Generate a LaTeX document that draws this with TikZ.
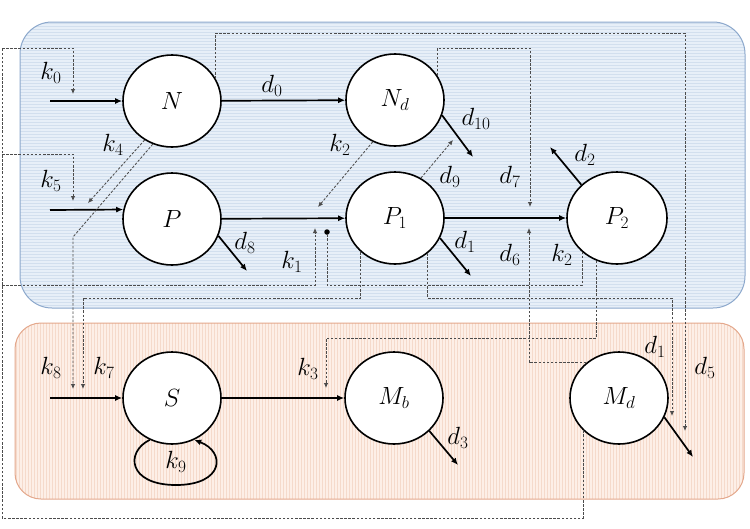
\documentclass[tikz,border=0pt]{standalone}
\usetikzlibrary{arrows.meta,shapes.geometric}
\definecolor{bluefill}{RGB}{231,239,248}
\definecolor{bluestripe}{RGB}{210,223,238}
\definecolor{blueedge}{RGB}{140,168,204}
\definecolor{orfill}{RGB}{253,239,231}
\definecolor{orstripe}{RGB}{245,218,203}
\definecolor{oredge}{RGB}{228,168,140}
\begin{document}
\begin{tikzpicture}[x=1pt,y=-1pt,
  state/.style={ellipse,draw,line width=1.6pt,fill=white,minimum width=98pt,minimum height=92pt,inner sep=0pt,font=\fontsize{25}{29}\selectfont},
  flow/.style={line width=1.7pt,-{Latex[length=7pt,width=6pt]}},
  ctrl/.style={draw=black!70,line width=0.85pt,dash pattern=on 2.5pt off 1.6pt},
  ctrlarr/.style={ctrl,-{Latex[length=5pt,width=4.5pt]}},
  lbl/.style={font=\fontsize{25}{29}\selectfont,inner sep=0pt},
  dotnode/.style={circle,fill=black,inner sep=0pt,minimum size=5.5pt}
]
\useasboundingbox (0,0) rectangle (750,528);
% upper box
\begin{scope}
\path[clip,rounded corners=32pt] (20,22) rectangle (745,308);
\fill[bluefill] (20,22) rectangle (745,308);
\foreach \y in {23,26,...,308} \draw[bluestripe,line width=0.5pt] (20,\y) -- (745,\y);
\end{scope}
\draw[blueedge,line width=1pt,rounded corners=32pt] (20,22) rectangle (745,308);
% lower box
\begin{scope}
\path[clip,rounded corners=26pt] (15,323) rectangle (744,499);
\fill[orfill] (15,323) rectangle (744,499);
\foreach \x in {16,19,...,744} \draw[orstripe,line width=0.5pt] (\x,323) -- (\x,499);
\end{scope}
\draw[oredge,line width=1pt,rounded corners=26pt] (15,323) rectangle (744,499);

% states
\node[state] (N) at (172,101) {$N$};
\node[state] (Nd) at (395,100) {$N_d$};
\node[state] (P) at (172,219) {$P$};
\node[state] (P1) at (395,218) {$P_1$};
\node[state,minimum width=100pt] (P2) at (617,218) {$P_2$};
\node[state] (S) at (172,398) {$S$};
\node[state] (Mb) at (394,398) {$M_b$};
\node[state] (Md) at (619,398) {$M_d$};

% coordinates
\coordinate (in0) at (50,101);
\coordinate (inP) at (50,210);
\coordinate (inS) at (50,398);
\coordinate (d8e) at (247,271);
\coordinate (d1e) at (471,276);
\coordinate (d10e) at (473,157);
\coordinate (d2e) at (550,147);
\coordinate (d3e) at (458,465);
\coordinate (dMe) at (693,457);

% solid flows
\draw[flow] (in0) -- (N);
\draw[flow] (inP) -- (P.169);
\draw[flow] (inS) -- (S);
\draw[flow] (N) -- (Nd);
\draw[flow] (P) -- (P1);
\draw[flow] (P1) -- (P2);
\draw[flow,line width=1.3pt] (S) -- (Mb);
\draw[flow] (P.-20) -- (d8e);
\draw[flow] (P1.-24) -- (d1e);
\draw[flow] (Nd.-18) -- (d10e);
\draw[flow] (P2.137) -- (d2e);
\draw[flow] (Mb.-43) -- (d3e);
\draw[flow] (Md.-23) -- (dMe);
\draw[flow] (S.-118) .. controls (125,452) and (128,485) .. (176,485)
  .. controls (224,485) and (226,452) .. (S.-62);

% dashed controls
\coordinate (t5) at (685,33); \coordinate (d5e) at (685,431);
\draw[ctrlarr] (N.27) |- (t5) -- (d5e);
\coordinate (t7) at (530,48); \coordinate (d7e) at (530,207);
\draw[ctrlarr] (Nd.30) |- (t7) -- (d7e);
\coordinate (d9e) at (453,140);
\draw[ctrlarr] (P1.57) -- (d9e);
\coordinate (k2e) at (318,207);
\draw[ctrlarr] (Nd.-118) -- (k2e);
\coordinate (k4e) at (88,203);
\draw[ctrlarr] (N.-125) -- (k4e);
\coordinate (k8b) at (73,237); \coordinate (k8e) at (73,389);
\draw[ctrlarr] (N.-114) -- (k8b) -- (k8e);

\coordinate (cB) at (2,518); \coordinate (cT) at (2,48);
\coordinate (k0t) at (73,48); \coordinate (k0e) at (73,94);
\coordinate (c5) at (2,154); \coordinate (k5t) at (73,154); \coordinate (k5e) at (73,201);
\coordinate (c1) at (2,285); \coordinate (k1t) at (315,285); \coordinate (k1e) at (315,228);
\draw[ctrl] (Md.222) |- (cB) -- (cT);
\draw[ctrlarr] (cT) -- (k0t) -- (k0e);
\draw[ctrlarr] (c5) -- (k5t) -- (k5e);
\draw[ctrlarr] (c1) -- (k1t) -- (k1e);

\node[dotnode] (k2d) at (327,232) {};
\coordinate (k2b) at (327,285);
\draw[ctrl] (P2.224) |- (k2b) -- (k2d);

\coordinate (k7t) at (83,298); \coordinate (k7e) at (83,389);
\draw[ctrlarr] (P1.225) |- (k7t) -- (k7e);
\coordinate (d1t) at (672,298); \coordinate (d1le) at (672,416);
\draw[ctrlarr] (P1.-47) |- (d1t) -- (d1le);
\coordinate (d6e) at (529,228);
\draw[ctrlarr] (Md.133) -| (d6e);
\coordinate (k3t) at (326,338); \coordinate (k3e) at (326,388);
\draw[ctrlarr] (P2.-116) |- (k3t) -- (k3e);

% labels
\node[lbl] (lk0) at (51,73) {$k_0$};
\node[lbl] (ld0) at (272,86) {$d_0$};
\node[lbl] (lk4) at (113,145) {$k_4$};
\node[lbl] (lk2a) at (340,145) {$k_2$};
\node[lbl] (lk5) at (51,181) {$k_5$};
\node[lbl] (ld8) at (245,243) {$d_8$};
\node[lbl] (lk1) at (292,262) {$k_1$};
\node[lbl] (ld10) at (476,119) {$d_{10}$};
\node[lbl] (ld9) at (450,177) {$d_9$};
\node[lbl] (ld7) at (510,177) {$d_7$};
\node[lbl] (ld2) at (585,155) {$d_2$};
\node[lbl] (ld1a) at (465,242) {$d_1$};
\node[lbl] (ld6) at (510,255) {$d_6$};
\node[lbl] (lk2b) at (562,255) {$k_2$};
\node[lbl] (lk8) at (51,368) {$k_8$};
\node[lbl] (lk7) at (104,368) {$k_7$};
\node[lbl] (lk3) at (308,369) {$k_3$};
\node[lbl] (lk9) at (176,462) {$k_9$};
\node[lbl] (ld1b) at (655,347) {$d_1$};
\node[lbl] (ld5) at (705,368) {$d_5$};
\node[lbl] (ld3) at (458,438) {$d_3$};
\end{tikzpicture}
\end{document}
